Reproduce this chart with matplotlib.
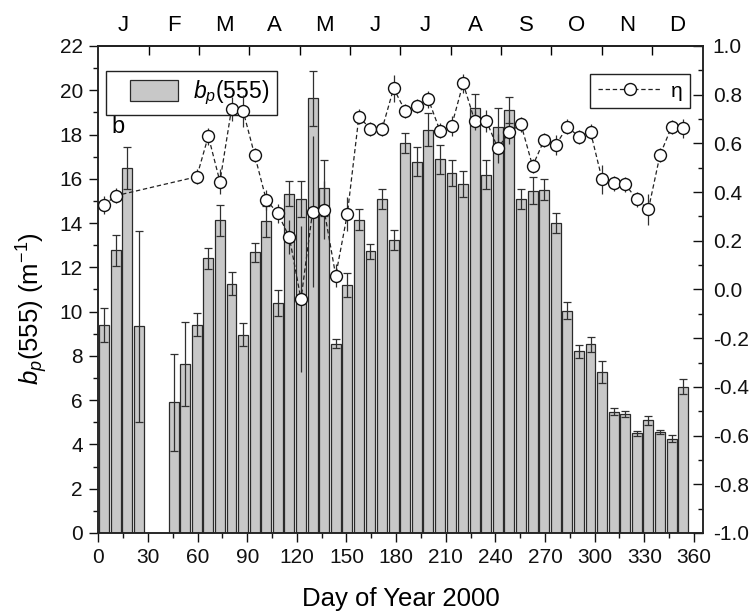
import numpy as np
import matplotlib
matplotlib.use("Agg")
import matplotlib.pyplot as plt
from matplotlib.patches import Rectangle
from matplotlib.lines import Line2D
from matplotlib.legend_handler import HandlerPatch
from matplotlib.ticker import MultipleLocator, FormatStrFormatter

plt.rcParams['font.family'] = ['Liberation Sans', 'DejaVu Sans']
plt.rcParams['mathtext.fontset'] = 'custom'
plt.rcParams['mathtext.rm'] = 'Liberation Sans'
plt.rcParams['mathtext.it'] = 'Liberation Sans:italic'
plt.rcParams['axes.unicode_minus'] = False

# ---- data: weekly composites (day of year centre) ----
days = [3.5, 10.5, 17.5, 24.5, 31.5, 38.5, 45.5, 52.5, 59.5, 66.5,
        73.5, 80.5, 87.5, 94.5, 101.5, 108.5, 115.5, 122.5, 129.5, 136.5,
        143.5, 150.5, 157.5, 164.5, 171.5, 178.5, 185.5, 192.5, 199.5, 206.5,
        213.5, 220.5, 227.5, 234.5, 241.5, 248.5, 255.5, 262.5, 269.5, 276.5,
        283.5, 290.5, 297.5, 304.5, 311.5, 318.5, 325.5, 332.5, 339.5, 346.5,
        353.5]

bp = [9.40, 12.77, 16.48, 9.34, np.nan, np.nan, 5.90, 7.63, 9.41, 12.41,
      14.12, 11.25, 8.96, 12.68, 14.09, 10.39, 15.32, 15.10, 19.64, 15.58,
      8.56, 11.22, 14.15, 12.72, 15.08, 13.22, 17.61, 16.78, 18.21, 16.89,
      16.26, 15.76, 19.19, 16.18, 18.36, 19.10, 15.08, 15.47, 15.50, 14.00,
      10.05, 8.20, 8.52, 7.28, 5.48, 5.37, 4.50, 5.10, 4.56, 4.26,
      6.61]

bp_err = [0.75, 0.69, 0.95, 4.32, np.nan, np.nan, 2.20, 1.88, 0.53, 0.48,
          0.70, 0.52, 0.53, 0.42, 0.70, 0.59, 0.57, 0.82, 1.25, 1.28,
          0.21, 0.54, 0.48, 0.35, 0.45, 0.45, 0.44, 0.64, 0.75, 0.66,
          0.57, 0.58, 0.63, 0.65, 0.83, 0.59, 0.46, 0.60, 0.47, 0.45,
          0.37, 0.30, 0.33, 0.50, 0.15, 0.12, 0.12, 0.20, 0.10, 0.15,
          0.33]

eta = [0.347, 0.385, np.nan, np.nan, np.nan, np.nan, np.nan, np.nan, 0.463, 0.630,
       0.443, 0.741, 0.734, 0.552, 0.368, 0.313, 0.214, -0.040, 0.320, 0.326,
       0.057, 0.309, 0.710, 0.659, 0.659, 0.826, 0.733, 0.754, 0.781, 0.652,
       0.671, 0.847, 0.693, 0.693, 0.580, 0.648, 0.678, 0.507, 0.614, 0.593,
       0.669, 0.627, 0.648, 0.452, 0.436, 0.432, 0.370, 0.329, 0.552, 0.668,
       0.662]

eta_err = [0.035, 0.030, np.nan, np.nan, np.nan, np.nan, np.nan, np.nan, 0.030, 0.035,
           0.050, 0.050, 0.065, 0.030, 0.040, 0.040, 0.070, 0.300, 0.310, 0.120,
           0.048, 0.070, 0.030, 0.030, 0.030, 0.055, 0.030, 0.030, 0.035, 0.030,
           0.040, 0.040, 0.040, 0.045, 0.060, 0.050, 0.030, 0.030, 0.030, 0.040,
           0.030, 0.030, 0.030, 0.060, 0.030, 0.030, 0.030, 0.065, 0.030, 0.030,
           0.040]

months = ['J', 'F', 'M', 'A', 'M', 'J', 'J', 'A', 'S', 'O', 'N', 'D']

# ---- figure ----
W, H = 755, 613
fig = plt.figure(figsize=(W / 100, H / 100), dpi=100)
L, R, T, B = 97.5, 703.0, 46.0, 533.0
ax = fig.add_axes([L / W, 1 - B / H, (R - L) / W, (B - T) / H])

d = np.array(days)
v = np.array(bp)
e = np.array(bp_err)
ok = ~np.isnan(v)

bar_fc = '#c8c8c8'
bar_ec = '#2a2a2a'
ax.bar(d[ok], v[ok], width=6.0, color=bar_fc, edgecolor=bar_ec, linewidth=0.9, zorder=2)
ax.errorbar(d[ok], v[ok], yerr=e[ok], fmt='none', ecolor='#303030', elinewidth=0.9,
            capsize=3.2, capthick=0.9, zorder=3)

ax.set_xlim(-0.5, 365.5)
ax.set_ylim(0, 22)
ax.xaxis.set_major_locator(MultipleLocator(30))
ax.xaxis.set_minor_locator(MultipleLocator(15))
ax.yaxis.set_major_locator(MultipleLocator(2))
ax.yaxis.set_minor_locator(MultipleLocator(1))
ax.tick_params(which='both', direction='out', top=False, right=False, width=1.0,
               labelsize=15, colors='#111111')
ax.tick_params(which='major', length=6.5, pad=4)
ax.tick_params(which='minor', length=3.5)
for s in ax.spines.values():
    s.set_linewidth(1.1)
    s.set_color('#222222')

ax.set_xlabel('Day of Year 2000', fontsize=18.5)
ax.xaxis.set_label_coords(0.501, -0.110)
ax.xaxis.label.set_va('top')
ax.set_ylabel('$b_p$(555) (m$^{-1}$)', fontsize=18.5)
ax.yaxis.set_label_coords(-0.079, 0.46)

# top month axis
month_len = 365.0 / 12
edges = [month_len * k for k in range(1, 12)]
mids = [month_len * (k + 0.5) for k in range(12)]
top = ax.secondary_xaxis('top')
top.set_xticks(edges)
top.set_xticklabels([''] * len(edges))
top.set_xticks(mids, labels=months, minor=True)
top.tick_params(which='major', direction='in', length=6.3, width=1.0)
top.tick_params(which='minor', length=0, pad=7, labelsize=16)
top.spines['top'].set_linewidth(1.1)

# legend for bars
class InsetHandler(HandlerPatch):
    def create_artists(self, legend, orig_handle, xdescent, ydescent, width, height,
                       fontsize, trans):
        inset = width * 0.26
        p = Rectangle((-xdescent + inset, -ydescent), width - inset, height,
                      facecolor=bar_fc, edgecolor=bar_ec, linewidth=0.9, transform=trans)
        return [p]

bar_handle = Rectangle((0, 0), 1, 1, facecolor=bar_fc, edgecolor=bar_ec)
leg1 = ax.legend([bar_handle], ['$b_p$(555)'], loc='upper left',
                 bbox_to_anchor=(0.014, 0.9487), borderaxespad=0, fancybox=False,
                 edgecolor='#222222', framealpha=1, fontsize=16.5, handlelength=2.82,
                 handleheight=1.05, borderpad=0.33, handletextpad=0.66,
                 handler_map={Rectangle: InsetHandler()})
leg1.get_frame().set_linewidth(1.0)

ax.text(0.0223, 0.8207, 'b', transform=ax.transAxes, fontsize=17, ha='left',
        va='baseline')

# eta on right axis
ax2 = ax.twinx()
de = np.array(days)
ve = np.array(eta)
ee = np.array(eta_err)
oke = ~np.isnan(ve)
ax2.errorbar(de[oke], ve[oke], yerr=ee[oke], fmt='none', ecolor='#303030',
             elinewidth=0.9, capsize=0, zorder=2)
ax2.plot(de[oke], ve[oke], linestyle=(0, (3.5, 2.2)), color='#222222', linewidth=0.9,
         marker='o', markersize=8.6, markerfacecolor='white', markeredgecolor='#111111',
         markeredgewidth=1.0, zorder=3, label='\u03b7')
ax2.set_ylim(-1, 1)
ax2.yaxis.set_major_locator(MultipleLocator(0.2))
ax2.yaxis.set_minor_locator(MultipleLocator(0.1))
ax2.yaxis.set_major_formatter(FormatStrFormatter('%.1f'))
ax2.tick_params(which='both', direction='in', width=1.0, labelsize=15, colors='#111111')
ax2.tick_params(which='major', length=7, pad=7)
ax2.tick_params(which='minor', length=3.5)
for s in ax2.spines.values():
    s.set_linewidth(1.1)
    s.set_color('#222222')

leg2 = ax2.legend(loc='upper right', bbox_to_anchor=(0.9785, 0.942), borderaxespad=0,
                  fancybox=False, edgecolor='#222222', framealpha=1, fontsize=15,
                  handlelength=3.1, borderpad=0.35, handletextpad=0.42)
leg2.get_frame().set_linewidth(1.0)

fig.savefig('out.png', dpi=100)
